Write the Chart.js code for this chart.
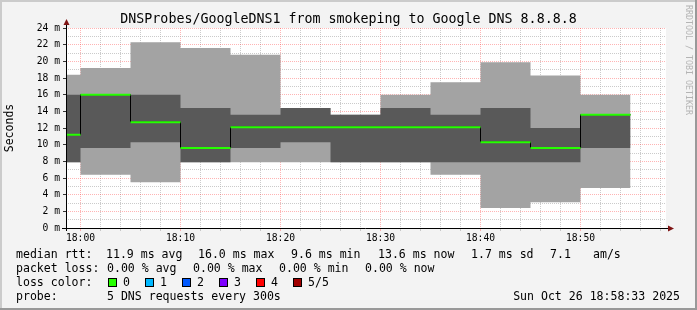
<!DOCTYPE html>
<html>
<head>
<meta charset="utf-8">
<script src="https://cdn.jsdelivr.net/npm/chart.js@4.4.0/dist/chart.umd.min.js"></script>
<style>
  html, body { margin: 0; padding: 0; background: #f3f3f3; }
  canvas { display: block; }
</style>
</head>
<body>
<canvas id="chart" width="697" height="310"></canvas>
<script>
// one entry per 5 minute step (start of the step), rtt in ms
var stepStart  = ['17:55', '18:00', '18:05', '18:10', '18:15', '18:20', '18:25', '18:30', '18:35', '18:40', '18:45', '18:50'];
var pingMax    = [18.4, 19.2, 22.3, 21.6, 20.8, 14.4, 13.6, 16.0, 17.5, 19.9, 18.3, 16.0];
var pingUpper  = [16.0, 16.0, 16.0, 14.4, 13.6, 14.4, 13.6, 14.4, 13.6, 14.4, 12.0, 13.6];
var pingMedian = [11.2, 16.0, 12.7,  9.6, 12.1, 12.1, 12.1, 12.1, 12.1, 10.3,  9.6, 13.6];
var pingLower  = [ 7.9,  9.6, 10.3,  7.9,  9.6, 10.3,  7.9,  7.9,  7.9,  7.9,  7.9,  9.6];
var pingMin    = [ 7.9,  6.4,  5.5,  7.9,  7.9,  7.9,  7.9,  7.9,  6.4,  2.4,  3.1,  4.8];

var xTickLabels = ['18:00', '18:10', '18:20', '18:30', '18:40', '18:50'];
var graphStart = '17:58:33';
var graphEnd   = '18:58:33';

var medianStats = ['11.9 ms avg', '16.0 ms max', '9.6 ms min', '13.6 ms now', '1.7 ms sd', '7.1', 'am/s'];
var lossStats   = ['0.00 % avg', '0.00 % max', '0.00 % min', '0.00 % now'];
var lossNames   = ['0', '1', '2', '3', '4', '5/5'];
var lossColors  = ['#26ff00', '#00b8ff', '#0059ff', '#7e00ff', '#ff0000', '#a10000'];

// minutes after 18:00
function toMin(s) {
    var p = s.split(':');
    return (parseInt(p[0], 10) - 18) * 60 + parseInt(p[1], 10) + (p[2] ? parseInt(p[2], 10) / 60 : 0);
}

function stepPoints(values) {
    // value holds from the step start to the next point
    var pts = values.map(function(v, i) { return {x: toMin(stepStart[i]), y: v}; });
    pts.push({x: toMin(stepStart[stepStart.length - 1]) + 5, y: values[values.length - 1]});
    return pts;
}

// horizontal median pieces only, the vertical joins come from the black line
var medianPieces = [];
pingMedian.forEach(function(v, i) {
    var t = toMin(stepStart[i]);
    medianPieces.push({x: t, y: v}, {x: t + 5, y: v}, {x: t + 5, y: null});
});

var mono = 'DejaVu Sans Mono';
var xMin = toMin(graphStart), xMax = toMin(graphEnd);

var rrdFrame = {
    id: 'rrdFrame',
    beforeDraw: function(chart) {
        var c = chart.ctx, a = chart.chartArea;
        c.save();
        c.fillStyle = '#f3f3f3';
        c.fillRect(0, 0, 697, 310);
        c.fillStyle = '#cbcbcb';
        c.fillRect(0, 0, 697, 2);
        c.fillRect(0, 0, 2, 310);
        c.fillStyle = '#999999';
        c.fillRect(0, 308, 697, 2);
        c.fillRect(695, 0, 2, 310);
        c.fillStyle = '#ffffff';
        c.fillRect(a.left, a.top, a.right - a.left, a.bottom - a.top);
        c.restore();
    },
    afterDraw: function(chart) {
        var c = chart.ctx, a = chart.chartArea;
        c.save();
        // axes with arrows
        c.strokeStyle = '#000';
        c.lineWidth = 1;
        c.beginPath();
        c.moveTo(62, a.bottom + 0.5);
        c.lineTo(a.right + 3, a.bottom + 0.5);
        c.moveTo(a.left + 0.5, a.bottom + 3);
        c.lineTo(a.left + 0.5, 23);
        c.stroke();
        c.fillStyle = '#7f1515';
        c.beginPath();
        c.moveTo(a.right + 2, a.bottom - 2.5);
        c.lineTo(a.right + 8, a.bottom + 0.5);
        c.lineTo(a.right + 2, a.bottom + 3.5);
        c.closePath();
        c.fill();
        c.beginPath();
        c.moveTo(a.left - 2.5, 25);
        c.lineTo(a.left + 0.5, 19);
        c.lineTo(a.left + 3.5, 25);
        c.closePath();
        c.fill();

        // title
        c.fillStyle = '#000';
        c.textBaseline = 'middle';
        c.textAlign = 'center';
        c.font = '13.3px "' + mono + '"';
        c.fillText('DNSProbes/GoogleDNS1 from smokeping to Google DNS 8.8.8.8', 348.5, 19.5);

        // vertical labels
        c.save();
        c.translate(10, 128);
        c.rotate(-Math.PI / 2);
        c.font = '11.5px "' + mono + '"';
        c.fillText('Seconds', 0, 0);
        c.restore();
        c.save();
        c.translate(688, 60);
        c.rotate(Math.PI / 2);
        c.fillStyle = '#b4b4b4';
        c.font = '8.3px "' + mono + '"';
        c.fillText('RRDTOOL / TOBI OETIKER', 0, 0);
        c.restore();

        // legend block
        c.textAlign = 'left';
        c.font = '11.55px "' + mono + '"';
        c.fillText('median rtt:', 16, 254.5);
        var mx = [106, 198, 291, 378, 471, 550, 593];
        medianStats.forEach(function(s, i) { c.fillText(s, mx[i], 254.5); });
        c.fillText('packet loss:', 16, 268.5);
        var lx = [107, 193, 279, 365];
        lossStats.forEach(function(s, i) { c.fillText(s, lx[i], 268.5); });
        c.fillText('loss color:', 16, 282.5);
        var bx = [108, 145, 182, 219, 256, 293];
        lossNames.forEach(function(s, i) {
            c.fillStyle = lossColors[i];
            c.fillRect(bx[i], 278, 9, 9);
            c.strokeStyle = '#000';
            c.strokeRect(bx[i] + 0.5, 278.5, 8, 8);
            c.fillStyle = '#000';
            c.fillText(s, bx[i] + 15, 282.5);
        });
        c.fillText('probe:', 16, 296.5);
        c.fillText('5 DNS requests every 300s', 107, 296.5);
        c.textAlign = 'right';
        c.fillText('Sun Oct 26 18:58:33 2025', 680, 296.5);
        c.restore();
    }
};

var gridGray = 'rgba(175,175,175,0.65)';
var gridRed = 'rgba(255,40,40,0.35)';

new Chart(document.getElementById('chart'), {
    type: 'line',
    data: {
        datasets: [
            { data: stepPoints(pingMedian), stepped: 'before', borderColor: '#000', borderWidth: 1,
              pointRadius: 0, fill: false, order: 2, clip: 0 },
            { data: medianPieces, borderColor: lossColors[0], borderWidth: 2, pointRadius: 0,
              fill: false, spanGaps: false, order: 1, clip: 0 },
            { data: stepPoints(pingUpper), stepped: 'before', borderColor: 'rgba(0,0,0,0)',
              backgroundColor: '#595959', pointRadius: 0, fill: '+1', order: 4, clip: 0 },
            { data: stepPoints(pingLower), stepped: 'before', borderColor: 'rgba(0,0,0,0)',
              pointRadius: 0, fill: false, order: 4, clip: 0 },
            { data: stepPoints(pingMax), stepped: 'before', borderColor: 'rgba(0,0,0,0)',
              backgroundColor: '#a3a3a3', pointRadius: 0, fill: '+1', order: 5, clip: 0 },
            { data: stepPoints(pingMin), stepped: 'before', borderColor: 'rgba(0,0,0,0)',
              pointRadius: 0, fill: false, order: 5, clip: 0 }
        ]
    },
    options: {
        responsive: false,
        animation: false,
        events: [],
        layout: { padding: { left: 0, right: 31, top: 28, bottom: 0 } },
        plugins: { legend: { display: false }, title: { display: false }, tooltip: { enabled: false } },
        scales: {
            x: {
                type: 'linear',
                min: xMin,
                max: xMax,
                z: 1,
                afterBuildTicks: function(scale) {
                    var t = [];
                    for (var v = Math.ceil(xMin / 2) * 2; v <= xMax; v += 2) t.push({value: v});
                    scale.ticks = t;
                },
                afterFit: function(scale) { scale.height = 82; },
                border: { display: false, dash: [1, 1] },
                grid: {
                    color: function(ctx) { return ctx.tick && ctx.tick.value % 10 === 0 ? gridRed : gridGray; },
                    tickColor: function(ctx) { return ctx.tick && ctx.tick.value % 10 === 0 ? gridRed : gridGray; },
                    tickLength: 3,
                    lineWidth: 1
                },
                ticks: {
                    autoSkip: false,
                    maxRotation: 0,
                    padding: 2,
                    color: '#000',
                    font: { family: mono, size: 9.7 },
                    callback: function(value) {
                        return value % 10 === 0 ? (xTickLabels[value / 10] || '') : '';
                    }
                }
            },
            y: {
                min: 0,
                max: 24,
                z: 1,
                afterFit: function(scale) { scale.width = 66; },
                border: { display: false, dash: [1, 1] },
                grid: {
                    color: function(ctx) { return ctx.tick && ctx.tick.value % 2 === 0 ? gridRed : gridGray; },
                    tickColor: function(ctx) { return ctx.tick && ctx.tick.value % 2 === 0 ? '#333' : 'rgba(0,0,0,0)'; },
                    tickLength: 3,
                    lineWidth: 1
                },
                ticks: {
                    stepSize: 1,
                    autoSkip: false,
                    padding: 3,
                    color: '#000',
                    font: { family: mono, size: 9.7 },
                    callback: function(value) { return value % 2 === 0 ? value + ' m' : ''; }
                }
            }
        }
    },
    plugins: [rrdFrame]
});
</script>
</body>
</html>
